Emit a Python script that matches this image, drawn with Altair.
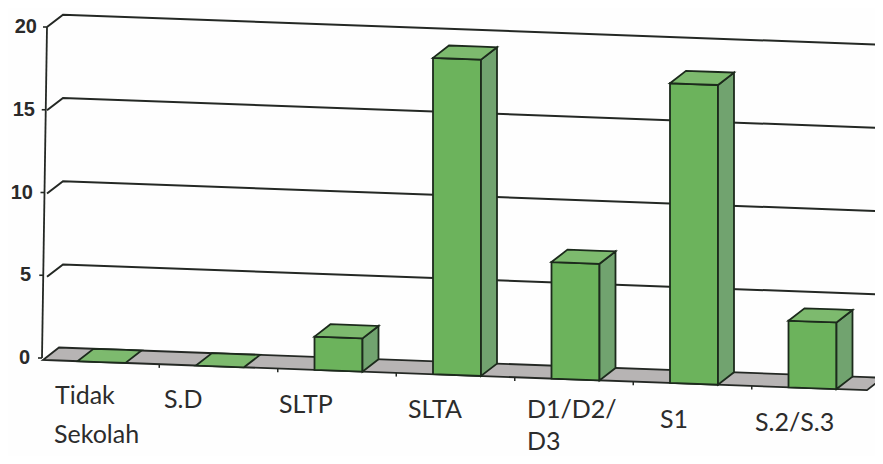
import altair as alt
import pandas as pd

# ---- data
categories = ["Tidak Sekolah", "S.D", "SLTP", "SLTA", "D1/D2/D3", "S1", "S.2/S.3"]
values = [0, 0, 2, 19, 7, 18, 4]
y_ticks = [0, 5, 10, 15, 20]

# ---- text layout (text, left px, centre px)
cat_label_rows = [("Tidak", 55, 396), ("Sekolah", 54, 435), ("S.D", 164, 400), ("SLTP", 279, 405),
                  ("SLTA", 408, 410), ("D1/D2/", 527, 410), ("D3", 527, 442), ("S1", 660, 420),
                  ("S.2/S.3", 755, 423)]
tick_label_right = [30, 31, 33, 35, 37]

# ---- oblique projection of the scanned 3-D chart
PX_X0, PX_PITCH = 77.5, 118.5
PX_Y0, PX_UNIT = 361.2, 16.65
SKEW = 0.2612
BAR_W = 0.405
DX, DY = 0.135, 0.78
W, H = 828, 448
LEFT = 39

def ux(px):
    return (px - PX_X0) / PX_PITCH

def uy(py):
    return (PX_Y0 - py) / PX_UNIT

def Y(pos, v, depth=0):
    return v - SKEW * pos + depth * DY

x_scale = alt.Scale(domain=[ux(47), ux(47 + W)], nice=False, zero=False)
y_scale = alt.Scale(domain=[uy(8 + H), uy(8)], nice=False, zero=False)
X = alt.X("x:Q", scale=x_scale, axis=None)
YY = alt.Y("y:Q", scale=y_scale, axis=None)
Y2 = alt.Y2("y2:Q")

# floor
a, b = ux(43), ux(867)
floor = pd.DataFrame([
    dict(x=a, y=Y(a, 0), y2=Y(a, 0)),
    dict(x=a + DX, y=Y(a + DX, 0, 1), y2=Y(a + DX, 0)),
    dict(x=b, y=Y(b, 0, 1), y2=Y(b, 0)),
    dict(x=b + DX, y=Y(b + DX, 0, 1), y2=Y(b + DX, 0, 1)),
])

# walls / gridlines
grid_rows = []
left, right = ux(47), ux(883)
for t in y_ticks:
    if t == 0:
        continue
    grid_rows += [dict(x=left, y=Y(left, t), t=t),
                  dict(x=left + DX, y=Y(left + DX, t, 1), t=t),
                  dict(x=right, y=Y(right, t, 1), t=t)]
grid = pd.DataFrame(grid_rows)

axis_line = pd.DataFrame([dict(x=ux(47), y=uy(27)), dict(x=ux(42), y=uy(358))])
tick_rows = []
for t, r in zip(y_ticks, tick_label_right):
    py = 358 - t * 16.55
    ax = 42 + 5 * t / 20
    tick_rows += [dict(x=ux(ax - 4), y=uy(py), t=t), dict(x=ux(ax), y=uy(py), t=t)]
ticks = pd.DataFrame(tick_rows)

floor_ticks = pd.DataFrame([
    dict(x=i + 0.69, y=Y(i + 0.69, 0), y2=Y(i + 0.69, 0) - 0.22) for i in range(6)
])

# bar faces
rows = []
for i, (c, v) in enumerate(zip(categories, values)):
    x0, x1 = float(i), i + BAR_W
    if v > 0:
        for x in (x0, x1):
            rows.append(dict(x=x, y=Y(x, v), y2=Y(x, 0), face="front", id=f"{c}-f", cat=c))
        rows.append(dict(x=x1, y=Y(x1, v), y2=Y(x1, 0), face="side", id=f"{c}-s", cat=c))
        rows.append(dict(x=x1 + DX, y=Y(x1 + DX, v, 1), y2=Y(x1 + DX, 0, 1), face="side", id=f"{c}-s", cat=c))
    rows += [
        dict(x=x0, y=Y(x0, v), y2=Y(x0, v), face="top", id=f"{c}-t", cat=c),
        dict(x=x0 + DX, y=Y(x0 + DX, v, 1), y2=Y(x0 + DX, v), face="top", id=f"{c}-t", cat=c),
        dict(x=x1, y=Y(x1, v, 1), y2=Y(x1, v), face="top", id=f"{c}-t", cat=c),
        dict(x=x1 + DX, y=Y(x1 + DX, v, 1), y2=Y(x1 + DX, v, 1), face="top", id=f"{c}-t", cat=c),
    ]
faces = pd.DataFrame(rows)

cat_text = pd.DataFrame([dict(x=ux(px), y=uy(py), label=s) for s, px, py in cat_label_rows])
tick_text = pd.DataFrame([dict(x=ux(r), y=uy(358 - t * 16.55), label=str(t))
                          for t, r in zip(y_ticks, tick_label_right)])

INK = "#242824"
layers = [
    alt.Chart(grid).mark_line(color=INK, strokeWidth=2, clip=False).encode(X, YY, detail="t:N", order=alt.Order("x:Q")),
    alt.Chart(axis_line).mark_line(color=INK, strokeWidth=1.8).encode(X, YY),
    alt.Chart(ticks).mark_line(color=INK, strokeWidth=1.6).encode(X, YY, detail="t:N"),
    alt.Chart(floor).mark_area(color="#b7b4b4", stroke=INK, strokeWidth=1.8, opacity=1).encode(X, YY, Y2),
    alt.Chart(floor_ticks).mark_rule(color=INK, strokeWidth=1.5).encode(X, YY, Y2),
    alt.Chart(faces).mark_area(stroke="#1c2a1c", strokeWidth=1.8, opacity=1).encode(
        X, YY, Y2, detail="id:N",
        color=alt.Color("face:N", legend=None,
                        scale=alt.Scale(domain=["front", "side", "top"],
                                        range=["#6cb35c", "#71a36f", "#7dba6e"])),
    ),
    alt.Chart(cat_text).mark_text(align="left", baseline="middle", font="Lato", fontSize=25, color="#2c2c2c").encode(X, YY, text="label:N"),
    alt.Chart(tick_text).mark_text(align="right", baseline="middle", font="Liberation Sans", fontSize=20, fontWeight="bold", color="#2a2a2a").encode(X, YY, text="label:N"),
]

chart = alt.layer(*layers).properties(
    width=W, height=H, autosize="none", background="#fefefe",
    padding={"left": LEFT, "top": 0, "right": 0, "bottom": 0},
).configure_view(stroke=None)

chart.save("out.html", embed_options={"renderer": "svg", "actions": False})
